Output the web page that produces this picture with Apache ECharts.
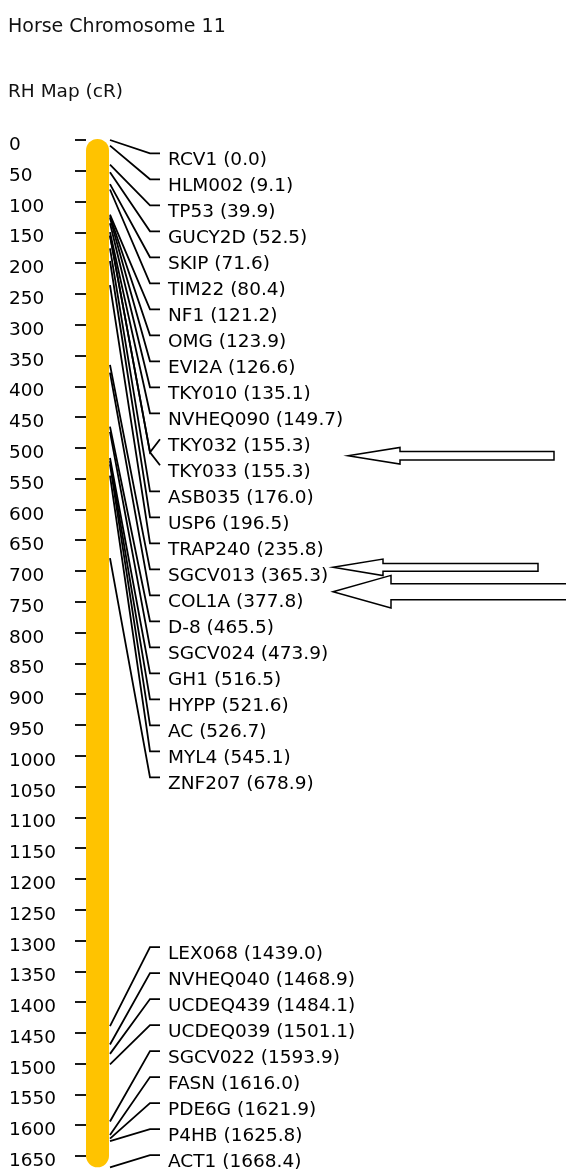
<!DOCTYPE html>
<html>
<head>
<meta charset="utf-8">
<title>Horse Chromosome 11</title>
<script src="https://cdn.jsdelivr.net/npm/echarts@6/dist/echarts.min.js"></script>
<style>
html, body { margin: 0; padding: 0; background: #fff; }
#chart { width: 566px; height: 1171px; }
</style>
</head>
<body>
<div id="chart"></div>
<script>
// RH map of ECA11, positions in cR
const markerNames = ['RCV1', 'HLM002', 'TP53', 'GUCY2D', 'SKIP', 'TIM22', 'NF1', 'OMG', 'EVI2A', 'TKY010',
    'NVHEQ090', 'TKY032', 'TKY033', 'ASB035', 'USP6', 'TRAP240', 'SGCV013', 'COL1A', 'D-8', 'SGCV024',
    'GH1', 'HYPP', 'AC', 'MYL4', 'ZNF207', 'LEX068', 'NVHEQ040', 'UCDEQ439', 'UCDEQ039', 'SGCV022',
    'FASN', 'PDE6G', 'P4HB', 'ACT1'];
const markerPos = [0.0, 9.1, 39.9, 52.5, 71.6, 80.4, 121.2, 123.9, 126.6, 135.1,
    149.7, 155.3, 155.3, 176.0, 196.5, 235.8, 365.3, 377.8, 465.5, 473.9,
    516.5, 521.6, 526.7, 545.1, 678.9, 1439.0, 1468.9, 1484.1, 1501.1, 1593.9,
    1616.0, 1621.9, 1625.8, 1668.4];
const chromSpan = [0.0, 1668.4];
const axisMin = 0, axisMax = 1650, axisStep = 50;
// markers the arrows point at
const arrowTargets = [['TKY032', 'TKY033'], ['SGCV013'], ['COL1A']];

const FONT = '18.5px "DejaVu Sans"';
const INK = '#000';
const ROW = 26;
const BAR_W = 23;

// label stacks: split where the map has a big gap
const stacks = [];
markerPos.forEach((p, i) => {
    if (i === 0 || p - markerPos[i - 1] > 400) stacks.push([]);
    stacks[stacks.length - 1].push(i);
});
function stackOf(i) {
    return stacks.findIndex(s => s.indexOf(i) >= 0);
}
//first stack hangs from the top of the chromosome, the last one sits on its end
function labelY(i, api) {
    const s = stackOf(i), k = stacks[s].indexOf(i);
    if (s === 0) return api.coord([0, chromSpan[0]])[1] + 13.3 + k * ROW;
    return api.coord([0, chromSpan[1]])[1] - 12.3 - (stacks[s].length - 1 - k) * ROW;
}
// markers at the same spot share one elbow
function elbowY(i, api) {
    const twins = stacks[stackOf(i)].filter(j => markerPos[j] === markerPos[i]);
    return twins.reduce((a, j) => a + labelY(j, api), 0) / twins.length;
}

const arrowStyle = [
    { tipX: 262, dy: 3.4, head: 52, endX: 468, headH: 8.3, shaftH: 4.2 },
    { tipX: 247, dy: -2, head: 50, endX: 452, headH: 8.2, shaftH: 3.9 },
    { tipX: 247, dy: -3.6, head: 58, endX: 520, headH: 16.3, shaftH: 8 }
];

const chart = echarts.init(document.getElementById('chart'));
chart.setOption({
    animation: false,
    backgroundColor: '#fff',
    graphic: [
        { type: 'text', x: 8, y: 26.8, style: { text: 'Horse Chromosome 11', font: '19px "DejaVu Sans"', fill: '#111', verticalAlign: 'middle' } },
        { type: 'text', x: 8, y: 92, style: { text: 'RH Map (cR)', font: FONT, fill: '#111', verticalAlign: 'middle' } }
    ],
    grid: { left: 86, top: 140, right: 0, height: 1016, outerBoundsMode: 'none' },
    xAxis: { type: 'value', min: 0, max: 1, show: false },
    yAxis: {
        type: 'value',
        inverse: true,
        min: axisMin,
        max: axisMax,
        interval: axisStep,
        axisLine: { show: false },
        axisTick: { show: true, length: 11, lineStyle: { color: INK, width: 1.8 } },
        axisLabel: {
            align: 'left',
            verticalAlign: 'top',
            lineHeight: 10.5,
            margin: 77,
            color: INK,
            fontFamily: 'DejaVu Sans',
            fontSize: 18.5,
            showMinLabel: true,
            showMaxLabel: true,
            formatter: v => String(v)
        },
        splitLine: { show: false }
    },
    series: [
        {
            // chromosome bar
            type: 'custom',
            silent: true,
            clip: false,
            data: [[0, chromSpan[0], chromSpan[1]]],
            encode: { x: 0, y: 1 },
            renderItem(params, api) {
                const a = api.coord([0, api.value(1)]);
                const b = api.coord([0, api.value(2)]);
                return {
                    type: 'rect',
                    shape: { x: a[0], y: a[1] - 1, width: BAR_W, height: b[1] - a[1] + 1, r: BAR_W / 2 },
                    style: { fill: '#FFC300' }
                };
            }
        },
        {
            // markers with their labels
            type: 'custom',
            silent: true,
            clip: false,
            data: markerPos.map((p, i) => ({ name: markerNames[i], value: [0, p] })),
            encode: { x: 0, y: 1 },
            renderItem(params, api) {
                const i = params.dataIndex;
                const pt = api.coord([0, api.value(1)]);
                const x0 = pt[0];
                const ly = labelY(i, api);
                const ey = elbowY(i, api);
                return {
                    type: 'group',
                    children: [
                        {
                            type: 'polyline',
                            shape: { points: [[x0 + BAR_W + 1, pt[1]], [x0 + 64, ey], [x0 + 74, ly]] },
                            style: { stroke: INK, lineWidth: 1.8, fill: null }
                        },
                        {
                            type: 'text',
                            style: {
                                text: markerNames[i] + ' (' + markerPos[i].toFixed(1) + ')',
                                x: x0 + 82,
                                y: ly + 7,
                                verticalAlign: 'middle',
                                font: FONT,
                                fill: INK
                            }
                        }
                    ]
                };
            }
        },
        {
            // hollow arrows drawn over the map
            type: 'custom',
            silent: true,
            clip: false,
            data: arrowTargets.map((t, k) => [0, markerPos[markerNames.indexOf(t[0])], k]),
            encode: { x: 0, y: 1 },
            renderItem(params, api) {
                const k = params.dataIndex;
                const s = arrowStyle[k];
                const x0 = api.coord([0, 0])[0];
                const idx = arrowTargets[k].map(n => markerNames.indexOf(n));
                const ty = idx.reduce((a, j) => a + labelY(j, api), 0) / idx.length + s.dy;
                const tx = x0 + s.tipX, hx = tx + s.head, ex = x0 + s.endX;
                return {
                    type: 'polygon',
                    shape: {
                        points: [[tx, ty], [hx, ty - s.headH], [hx, ty - s.shaftH], [ex, ty - s.shaftH],
                            [ex, ty + s.shaftH], [hx, ty + s.shaftH], [hx, ty + s.headH]]
                    },
                    style: { fill: '#fff', stroke: INK, lineWidth: 1.5 }
                };
            }
        }
    ]
});
</script>
</body>
</html>
